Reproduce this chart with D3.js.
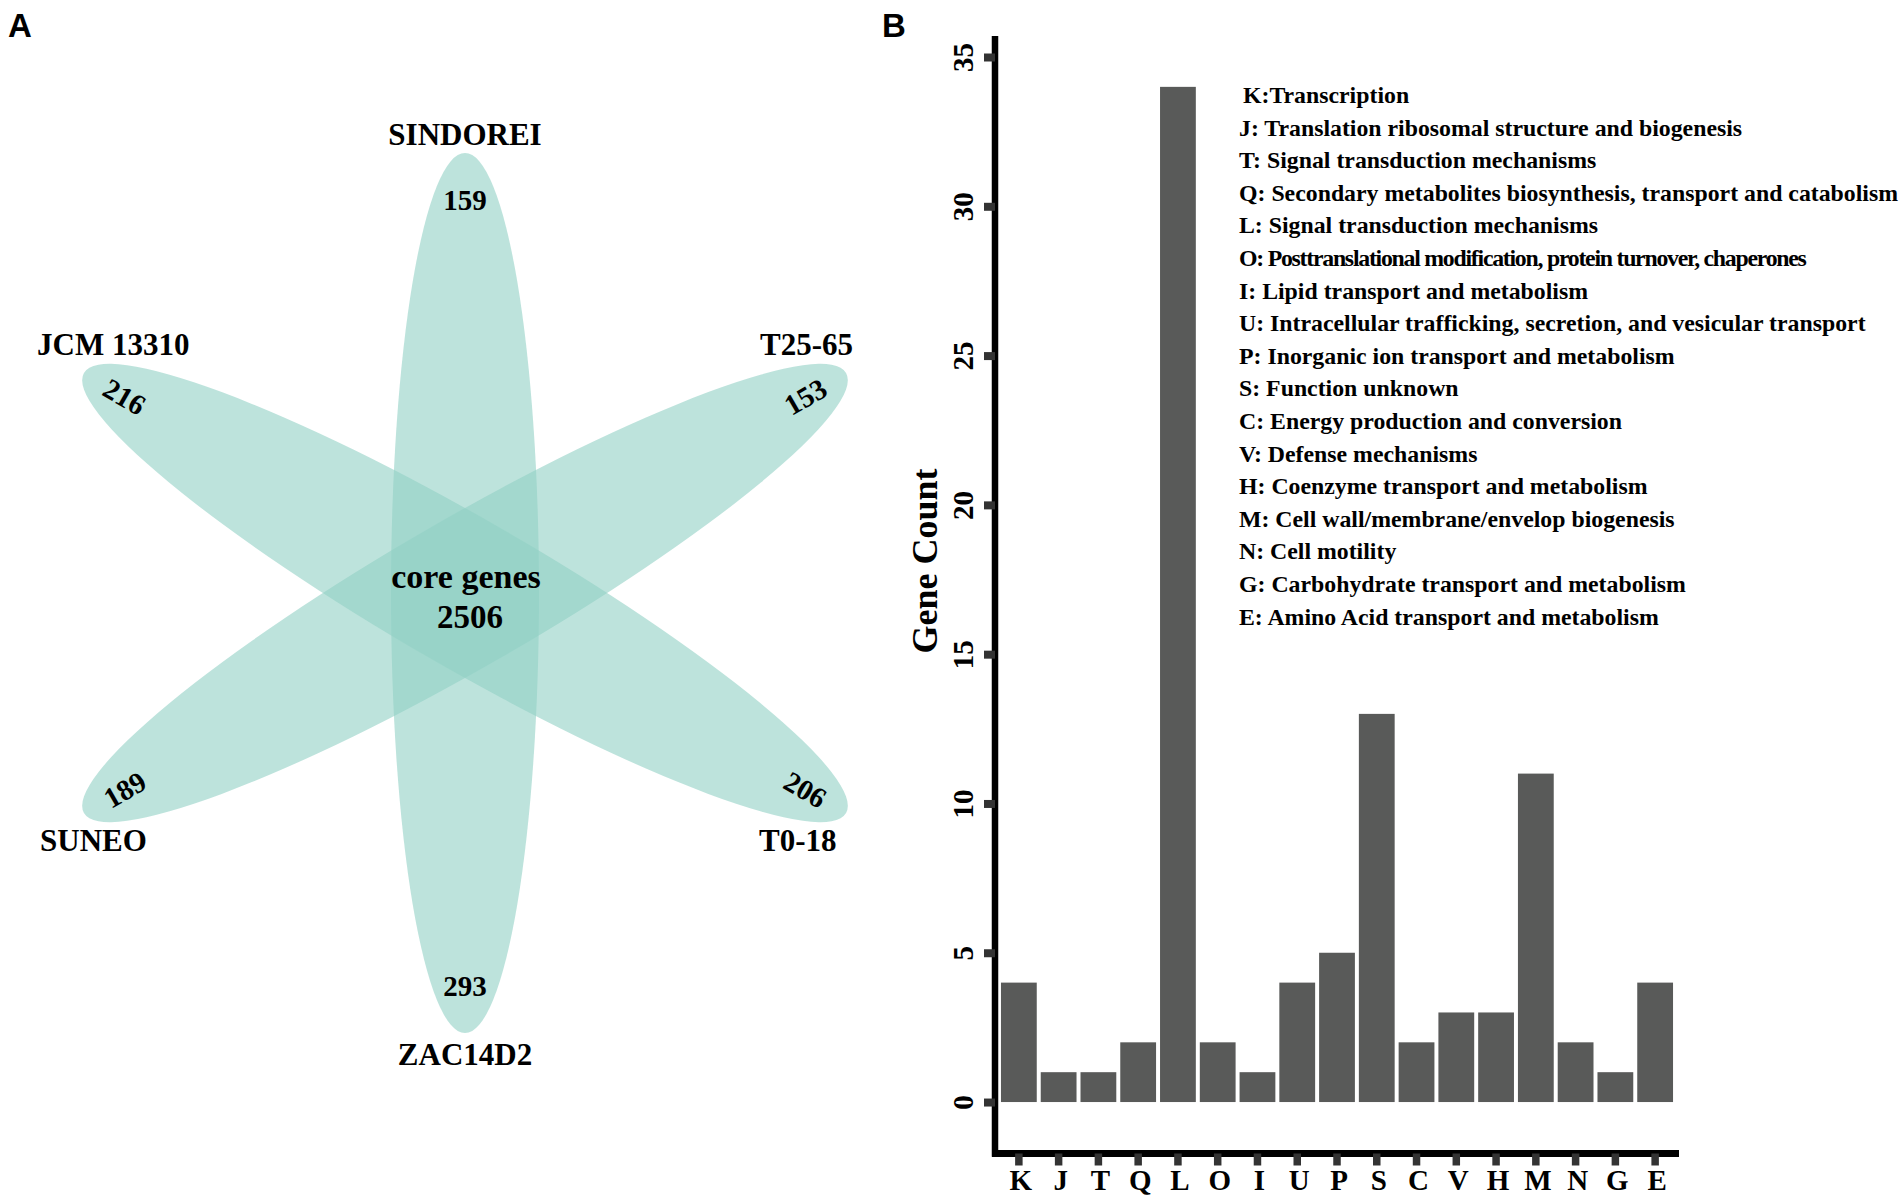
<!DOCTYPE html>
<html><head><meta charset="utf-8">
<script src="https://cdn.jsdelivr.net/npm/d3@7"></script>
<style>
body{margin:0;background:#fff}
svg{display:block}
text{font-family:"Liberation Serif","Times New Roman",serif;font-weight:bold;fill:#000}
</style>
</head><body><svg id="chart" width="1904" height="1200"></svg>
<script>
// ---------- data ----------
const vennSets = ["SINDOREI", "T25-65", "T0-18", "ZAC14D2", "SUNEO", "JCM 13310"];
const vennUnique = [159, 153, 206, 293, 189, 216];
const coreLabel = "core genes";
const coreCount = 2506;

const cogCodes = ["K","J","T","Q","L","O","I","U","P","S","C","V","H","M","N","G","E"];
const cogCounts = [4, 1, 1, 2, 34, 2, 1, 4, 5, 13, 2, 3, 3, 11, 2, 1, 4];
const cogLegend = [
  "K:Transcription",
  "J: Translation ribosomal structure and biogenesis",
  "T: Signal transduction mechanisms",
  "Q: Secondary metabolites biosynthesis, transport and catabolism",
  "L: Signal transduction mechanisms",
  "O: Posttranslational modification, protein turnover, chaperones",
  "I: Lipid transport and metabolism",
  "U: Intracellular trafficking, secretion, and vesicular transport",
  "P: Inorganic ion transport and metabolism",
  "S: Function unknown",
  "C: Energy production and conversion",
  "V: Defense mechanisms",
  "H: Coenzyme transport and metabolism",
  "M: Cell wall/membrane/envelop biogenesis",
  "N: Cell motility",
  "G: Carbohydrate transport and metabolism",
  "E: Amino Acid transport and metabolism"
];
const yTickValues = [0, 5, 10, 15, 20, 25, 30, 35];
const yTitle = "Gene Count";
const panelLetters = ["A", "B"];

// ---------- layout ----------
const svg = d3.select("#chart");

// panel letters
svg.append("text").text(panelLetters[0]).attr("x", 8).attr("y", 37)
  .style("font-family", "'Liberation Sans',Arial,sans-serif").style("font-size", "33px");
svg.append("text").text(panelLetters[1]).attr("x", 882).attr("y", 37)
  .style("font-family", "'Liberation Sans',Arial,sans-serif").style("font-size", "33px");

// ---------- Panel A: flower Venn ----------
const cx = 465, cy = 593, RA = 440, RB = 74;
const gA = svg.append("g");
const petalAngles = d3.range(vennSets.length / 2).map(i => i * 360 / vennSets.length);
gA.selectAll("ellipse").data(petalAngles).join("ellipse")
  .attr("cx", cx).attr("cy", cy).attr("rx", RB).attr("ry", RA)
  .attr("transform", d => `rotate(${d},${cx},${cy})`)
  .attr("fill", "rgb(145,208,197)").attr("fill-opacity", 0.6);

const rNum = 393;
gA.selectAll("text.num").data(vennUnique).join("text").attr("class", "num")
  .each(function(d, i) {
    const th = i * 360 / vennSets.length;
    const rad = th * Math.PI / 180;
    const x = cx + rNum * Math.sin(rad), y = cy - rNum * Math.cos(rad);
    let rot = ((th - 90) % 180 + 180) % 180; if (rot >= 90) rot -= 180;
    if (Math.abs(rot) === 90) rot = 0;
    d3.select(this).attr("transform", `translate(${x},${y}) rotate(${rot})`);
  })
  .attr("text-anchor", "middle").attr("dy", "0.35em")
  .style("font-size", "29px").text(d => d);

const labelPos = [
  {x: 465, y: 145, a: "middle"},
  {x: 760, y: 355, a: "start"},
  {x: 759, y: 851, a: "start"},
  {x: 465, y: 1065, a: "middle"},
  {x: 40, y: 851, a: "start"},
  {x: 37, y: 355, a: "start"}
];
gA.selectAll("text.lab").data(vennSets).join("text").attr("class", "lab")
  .attr("x", (d, i) => labelPos[i].x).attr("y", (d, i) => labelPos[i].y)
  .attr("text-anchor", (d, i) => labelPos[i].a)
  .style("font-size", "31px").text(d => d);

gA.append("text").attr("x", cx + 1).attr("y", cy - 5).attr("text-anchor", "middle")
  .style("font-size", "34px").text(coreLabel);
gA.append("text").attr("x", cx + 5).attr("y", cy + 35).attr("text-anchor", "middle")
  .style("font-size", "33px").text(coreCount);

// ---------- Panel B: bar chart ----------
const x = d3.scaleBand().domain(cogCodes).range([995, 1679]).paddingInner(0.1).paddingOuter(0.15);
const y = d3.scaleLinear().domain([-1.7, 35.7]).range([1152.8, 36.1]);

const gB = svg.append("g");
gB.selectAll("rect.bar").data(cogCodes).join("rect").attr("class", "bar")
  .attr("x", d => x(d)).attr("width", x.bandwidth())
  .attr("y", (d, i) => y(cogCounts[i]))
  .attr("height", (d, i) => y(0) - y(cogCounts[i]))
  .attr("fill", "#595a59");

// y axis
const yAxis = gB.append("g").attr("transform", "translate(995,0)")
  .call(d3.axisLeft(y).tickValues(yTickValues).tickSize(11).tickSizeOuter(0));
yAxis.select(".domain").attr("stroke", "#000").attr("stroke-width", 6.5)
  .attr("d", `M0,${y.range()[1]}V${y.range()[0] + 4}`);
yAxis.selectAll(".tick line").attr("stroke", "#333").attr("stroke-width", 8);
yAxis.selectAll(".tick text").attr("x", null).attr("dy", null)
  .attr("transform", "translate(-22,0) rotate(-90)")
  .attr("text-anchor", "middle").attr("fill", "#000")
  .style("font-size", "29px").style("font-family", "'Liberation Serif',serif").style("font-weight", "bold");

// x axis
const xAxis = gB.append("g").attr("transform", "translate(0,1153.5)")
  .call(d3.axisBottom(x).tickSize(12).tickSizeOuter(0));
xAxis.select(".domain").attr("stroke", "#000").attr("stroke-width", 7)
  .attr("d", `M${992},0H${x.range()[1]}`);
xAxis.selectAll(".tick line").attr("stroke", "#333").attr("stroke-width", 7.5);
xAxis.selectAll(".tick text").attr("y", 36).attr("dy", null).attr("fill", "#000")
  .attr("dx", 2)
  .style("font-size", "29px").style("font-family", "'Liberation Serif',serif").style("font-weight", "bold");

// y title
gB.append("text").attr("transform", "translate(937,561) rotate(-90)")
  .attr("text-anchor", "middle").style("font-size", "36px").text(yTitle);

// legend text
gB.selectAll("text.leg").data(cogLegend).join("text").attr("class", "leg")
  .attr("x", (d, i) => i === 0 ? 1243 : 1239).attr("y", (d, i) => 103 + i * 32.6)
  .style("font-size", "23.8px")
  .style("letter-spacing", (d, i) => i === 5 ? "-1.25px" : null)
  .text(d => d);
</script>
</body></html>
